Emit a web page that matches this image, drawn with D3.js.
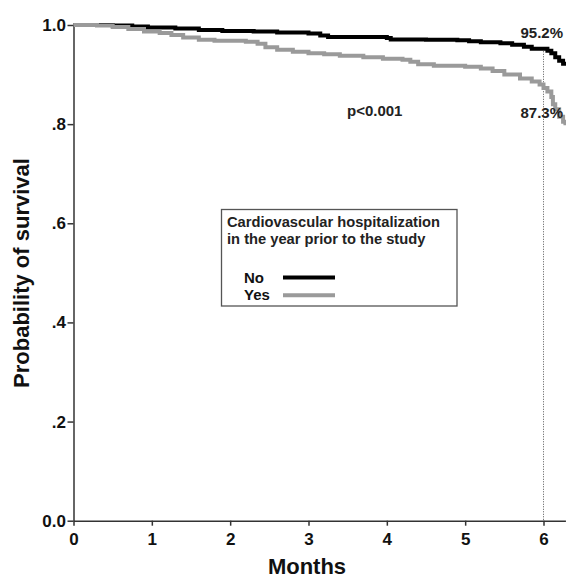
<!DOCTYPE html>
<html>
<head>
<meta charset="utf-8">
<script src="https://cdn.jsdelivr.net/npm/d3@7"></script>
<style>
  body { margin: 0; background: #fff; }
  svg { display: block; font-family: "Liberation Sans", Arial, sans-serif; font-weight: bold; }
</style>
</head>
<body>
<svg id="canvas"></svg>
<script>
const width = 566;
const height = 579;

// Kaplan-Meier estimates (month, survival)
const noMonths = [0, 0.5, 0.75, 0.95, 1.3, 1.6, 1.9, 2.3, 2.6, 3.0, 3.15, 3.25, 3.6, 4.0, 4.05, 4.5, 4.9, 5.05, 5.2, 5.45, 5.6, 5.75, 5.85, 6.0, 6.05, 6.1, 6.15, 6.2, 6.25, 6.28];
const noSurv = [1.0, 0.999, 0.997, 0.995, 0.993, 0.990, 0.988, 0.987, 0.985, 0.983, 0.979, 0.976, 0.976, 0.974, 0.971, 0.970, 0.969, 0.967, 0.965, 0.963, 0.960, 0.956, 0.952, 0.952, 0.948, 0.943, 0.935, 0.928, 0.922, 0.918];

const yesMonths = [0, 0.3, 0.5, 0.7, 0.9, 1.1, 1.25, 1.4, 1.6, 1.8, 2.2, 2.35, 2.45, 2.6, 2.8, 3.0, 3.2, 3.4, 3.7, 3.95, 4.2, 4.3, 4.4, 4.6, 5.0, 5.2, 5.35, 5.5, 5.7, 5.85, 5.95, 6.0, 6.05, 6.1, 6.12, 6.15, 6.2, 6.25, 6.28];
const yesSurv = [1.0, 0.999, 0.996, 0.992, 0.987, 0.984, 0.980, 0.975, 0.970, 0.968, 0.966, 0.962, 0.955, 0.950, 0.946, 0.943, 0.941, 0.938, 0.935, 0.932, 0.930, 0.926, 0.921, 0.918, 0.916, 0.912, 0.907, 0.900, 0.892, 0.886, 0.880, 0.873, 0.866, 0.855, 0.840, 0.830, 0.815, 0.805, 0.798];

const xTicks = [0, 1, 2, 3, 4, 5, 6];
const yTicks = [0, 0.2, 0.4, 0.6, 0.8, 1.0];
const yTickLabels = ['0.0', '.2', '.4', '.6', '.8', '1.0'];

const groups = ['No', 'Yes'];
const groupColors = ['#000000', '#9a9a9a'];

const svg = d3.select('#canvas').attr('width', width).attr('height', height);

const x = d3.scaleLinear().domain([0, 6]).range([73.5, 543.5]);
const y = d3.scaleLinear().domain([0, 1]).range([520.7, 25]);

// x axis runs a bit past 6 months, like the curves
const xAxisScale = x.copy().domain([0, 6.28]).range([73.5, x(6.28)]);

const xAxis = svg.append('g')
  .attr('transform', `translate(0,${y(0)})`)
  .call(d3.axisBottom(xAxisScale).tickValues(xTicks).tickSize(5).tickSizeOuter(0).tickFormat(d3.format('d')));
xAxis.selectAll('text').attr('dy', null).attr('y', 24.3).style('font-size', '17px').attr('fill', '#111');

const yAxis = svg.append('g')
  .attr('transform', `translate(${x(0)},0)`)
  .call(d3.axisLeft(y).tickValues(yTicks).tickSize(6).tickSizeOuter(0).tickPadding(1.5)
    .tickFormat((d, i) => yTickLabels[i]));
yAxis.selectAll('text').style('font-size', '17px').attr('fill', '#111');

svg.selectAll('.domain, .tick line').attr('stroke', '#333').attr('stroke-width', 1.5);

// dotted reference at 6 months
svg.append('line')
  .attr('x1', x(6)).attr('x2', x(6))
  .attr('y1', y(0.952)).attr('y2', y(0))
  .attr('stroke', '#555').attr('stroke-width', 1).attr('stroke-dasharray', '1,1.5');

const line = d3.line()
  .x(d => x(d[0]))
  .y(d => y(d[1]))
  .curve(d3.curveStepAfter);

const series = [d3.zip(noMonths, noSurv), d3.zip(yesMonths, yesSurv)];

svg.selectAll('path.km')
  .data(series)
  .enter()
  .append('path')
  .attr('class', 'km')
  .attr('d', line)
  .attr('fill', 'none')
  .attr('stroke', (d, i) => groupColors[i])
  .attr('stroke-width', 4);

// annotations
svg.append('text').attr('x', 563).attr('y', 38).attr('text-anchor', 'end').style('font-size', '15px').attr('fill', '#222').text('95.2%');
svg.append('text').attr('x', 563).attr('y', 118).attr('text-anchor', 'end').style('font-size', '15px').attr('fill', '#222').text('87.3%');
svg.append('text').attr('x', 347).attr('y', 116).style('font-size', '15px').attr('fill', '#222').text('p<0.001');

// legend
const legend = svg.append('g');
legend.append('rect')
  .attr('x', 221.5).attr('y', 209.5).attr('width', 235.5).attr('height', 96.5)
  .attr('fill', '#fff').attr('stroke', '#555').attr('stroke-width', 1.3);
legend.append('text').attr('x', 227).attr('y', 227).style('font-size', '14.7px').attr('fill', '#222').text('Cardiovascular hospitalization');
legend.append('text').attr('x', 227).attr('y', 244).style('font-size', '14.7px').attr('fill', '#222').text('in the year prior to the study');

groups.forEach((g, i) => {
  const ly = 277.5 + i * 17.7;
  legend.append('text').attr('x', 244).attr('y', ly + 5).style('font-size', '15px').attr('fill', '#111').text(g);
  legend.append('line').attr('x1', 283).attr('x2', 335).attr('y1', ly).attr('y2', ly)
    .attr('stroke', groupColors[i]).attr('stroke-width', 4);
});

// axis titles
svg.append('text')
  .attr('x', 307).attr('y', 574).attr('text-anchor', 'middle')
  .style('font-size', '22px').attr('fill', '#111').text('Months');

svg.append('text')
  .attr('transform', 'translate(28.5,273) rotate(-90)')
  .attr('text-anchor', 'middle')
  .style('font-size', '22px').attr('fill', '#111').text('Probability of survival');
</script>
</body>
</html>
